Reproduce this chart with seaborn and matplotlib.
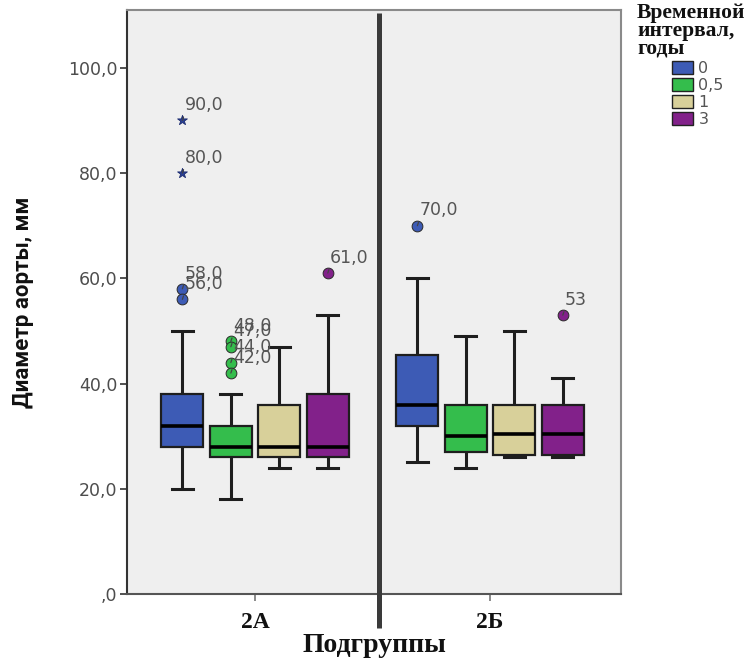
import numpy as np
import pandas as pd
import matplotlib
matplotlib.use("Agg")
import matplotlib.pyplot as plt
import seaborn as sns
from matplotlib.patches import Patch

# Subgroups on the x axis and follow-up intervals (hue)
subgroups = ["2А", "2Б"]
intervals = ["0", "0,5", "1", "3"]
interval_colors = ["#3d5bb5", "#34bd4c", "#d8d09a", "#82218a"]

# Box summaries per subgroup (rows) and interval (columns)
whisker_low = [[20, 18, 24, 24], [25, 24, 26, 26]]
quartile_1 = [[28, 26, 26, 26], [32, 27, 26.5, 26.5]]
medians = [[32, 28, 28, 28], [36, 30, 30.5, 30.5]]
quartile_3 = [[38, 32, 36, 38], [45.5, 36, 36, 36]]
whisker_high = [[50, 38, 47, 53], [60, 49, 50, 41]]

# Outlying observations with their case labels
outlier_group = [0, 0, 0, 0, 0, 0, 0, 0, 0, 1, 1]
outlier_interval = [0, 0, 0, 0, 1, 1, 1, 1, 3, 0, 3]
outlier_value = [90, 80, 58, 56, 48, 47, 44, 42, 61, 70, 53]
outlier_label = ["90,0", "80,0", "58,0", "56,0", "48,0", "47,0",
                 "44,0", "42,0", "61,0", "70,0", "53"]
outlier_extreme = [True, True, False, False, False, False,
                   False, False, False, False, False]

yticks = [0, 20, 40, 60, 80, 100]
ytick_labels = [",0", "20,0", "40,0", "60,0", "80,0", "100,0"]

# Long-form table: five-number summary rows for every box
rows = []
for g, sg in enumerate(subgroups):
    for i, iv in enumerate(intervals):
        for v in (whisker_low[g][i], quartile_1[g][i], medians[g][i],
                  quartile_3[g][i], whisker_high[g][i]):
            rows.append({"Подгруппа": sg, "Интервал": iv, "Диаметр": v})
df = pd.DataFrame(rows)

serif = ["Liberation Serif", "DejaVu Serif"]

fig = plt.figure(figsize=(7.51, 6.64), dpi=100, facecolor="white")
ax = fig.add_axes([127 / 751, 70 / 664, 494 / 751, 584 / 664])
ax.set_facecolor("#efefef")

box_width = 0.825
sns.boxplot(
    data=df, x="Подгруппа", y="Диаметр", hue="Интервал",
    order=subgroups, hue_order=intervals, palette=interval_colors,
    whis=(0, 100), width=box_width, gap=0.13, showfliers=False,
    linecolor="#1e1e1e", linewidth=1.6, saturation=1, legend=False,
    medianprops=dict(color="black", linewidth=2.6),
    whiskerprops=dict(linewidth=2.2, color="#1e1e1e"),
    capprops=dict(linewidth=2.2, color="#1e1e1e"),
    ax=ax,
)

# Outliers with their labels
slot = box_width / len(intervals)
for g, i, v, lab, ext in zip(outlier_group, outlier_interval, outlier_value,
                             outlier_label, outlier_extreme):
    x = g + (i - (len(intervals) - 1) / 2) * slot
    if ext:
        ax.scatter([x], [v], marker="*", s=55, color="#2a3f94",
                   edgecolors="#1c2c70", linewidths=0.6, zorder=5)
    else:
        ax.scatter([x], [v], marker="o", s=60, color=interval_colors[i],
                   edgecolors="#2a2a2a", linewidths=0.7, zorder=5)
    ax.annotate(lab, xy=(x, v), xytext=(1.5, 4.5), textcoords="offset points",
                ha="left", va="bottom", fontsize=12.5, color="#555555",
                arrowprops=dict(arrowstyle="-", color="#444444", lw=0.9,
                                shrinkA=0, shrinkB=3, relpos=(0, 0)),
                zorder=6)

ax.set_xlim(-0.545, 1.557)
ax.set_ylim(0, 111)

# Panel divider between the subgroups
sep_x = 0.528
ax.plot([sep_x, sep_x], [-0.058, 0.995], color="#3a3a3a", lw=3.6,
        transform=ax.get_xaxis_transform(), clip_on=False, zorder=4,
        solid_capstyle="butt")

ax.set_yticks(yticks)
ax.set_yticklabels(ytick_labels, fontsize=12.5, color="#4d4d4d")
ax.tick_params(axis="y", length=5, width=1.2, color="#333333", pad=2)
ax.tick_params(axis="x", length=5, width=1.2, color="#777777", pad=8)
for t in ax.get_xticklabels():
    t.set_fontfamily(serif)
    t.set_fontweight("bold")
    t.set_fontsize(17)
    t.set_color("#111111")

ax.set_xlabel("Подгруппы", fontfamily=serif, fontweight="bold",
              fontsize=20, color="#111111", labelpad=0)
ax.set_ylabel("Диаметр аорты, мм", fontfamily=["Roboto", "DejaVu Sans"],
              fontweight="bold", fontsize=16, color="#111111", labelpad=24)

for side, sp in ax.spines.items():
    sp.set_visible(True)
    sp.set_linewidth(1.5)
    sp.set_color("#8a8a8a")
ax.spines["left"].set_color("#333333")
ax.spines["bottom"].set_color("#555555")

# Legend
fig.text(637 / 751, 1 - 3 / 664, "Временной\nинтервал,\nгоды",
         ha="left", va="top", fontfamily=serif, fontweight="bold",
         fontsize=15.5, linespacing=0.85, color="#111111")
handles = [Patch(facecolor=c, edgecolor="#222222", linewidth=1.0)
           for c in interval_colors]
fig.legend(handles, intervals, loc="upper left",
           bbox_to_anchor=(672 / 751, 1 - 61 / 664), frameon=False,
           handlelength=1.3, handleheight=0.85, handletextpad=0.35,
           labelspacing=0.13, fontsize=11.5, labelcolor="#555555",
           borderaxespad=0, borderpad=0)

fig.savefig("out.png", dpi=100, facecolor="white")
